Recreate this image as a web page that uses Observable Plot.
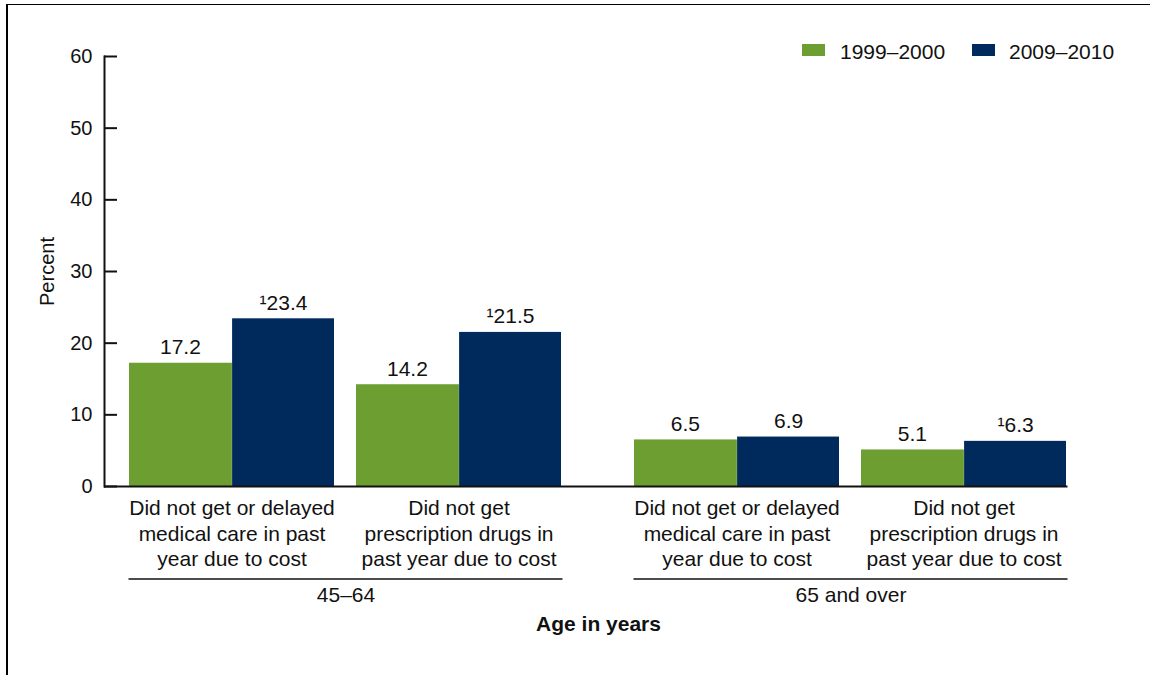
<!DOCTYPE html>
<html>
<head>
<meta charset="utf-8">
<script src="https://cdn.jsdelivr.net/npm/d3@7"></script>
<script src="https://cdn.jsdelivr.net/npm/@observablehq/plot@0.6"></script>
<style>
  html, body { margin: 0; padding: 0; background: #fff; }
  body { width: 1150px; height: 675px; position: relative; overflow: hidden;
         font-family: "Liberation Sans", Arial, Helvetica, sans-serif; }
  #border { position: absolute; left: 6px; top: 4px; width: 1150px; height: 700px;
            border-top: 1.5px solid #000; border-left: 2px solid #000; }
  #chart { position: absolute; left: 0; top: 0; }
  .lg { position: absolute; font-size: 21px; color: #111; line-height: 1; }
  .sw { position: absolute; width: 23px; height: 12px; }
</style>
</head>
<body>
<div id="border"></div>
<div id="chart"></div>
<div class="sw" id="sw1" style="left:802px; top:44px;"></div>
<div class="lg" id="lg1" style="left:840px; top:41px;"></div>
<div class="sw" id="sw2" style="left:972px; top:44px;"></div>
<div class="lg" id="lg2" style="left:1009px; top:41px;"></div>
<script>
// ---- data ----
const groups = ["45–64", "65 and over"];
const categoryKeys = ["care", "drugs"];
const categoryLabels = [
  "Did not get or delayed\nmedical care in past\nyear due to cost",
  "Did not get\nprescription drugs in\npast year due to cost"
];
const series = ["1999–2000", "2009–2010"];
const seriesColors = ["#6c9e31", "#002a5c"];
// order: [45–64 care, 45–64 drugs, 65+ care, 65+ drugs]
const values1999 = [17.2, 14.2, 6.5, 5.1];
const values2009 = [23.4, 21.5, 6.9, 6.3];
const note1999 = [false, false, false, false];
const note2009 = [true, true, false, true];
const yTicks = [0, 10, 20, 30, 40, 50, 60];

// ---- tables ----
function rowsFor(values, notes, s) {
  return values.map((v, i) => ({
    group: groups[Math.floor(i / 2)],
    cat: categoryKeys[i % 2],
    series: s,
    value: v,
    label: (notes[i] ? "¹" : "") + v.toFixed(1)
  }));
}
const rowsA = rowsFor(values1999, note1999, series[0]);
const rowsB = rowsFor(values2009, note2009, series[1]);
const catRows = groups.flatMap(g => categoryKeys.map((k, j) => ({group: g, cat: k, label: categoryLabels[j]})));

const halfBar = 103.1;

const chart = Plot.plot({
  width: 1150,
  height: 675,
  marginLeft: 104,
  marginRight: 58,
  marginTop: 56,
  marginBottom: 189,
  style: {fontFamily: "'Liberation Sans', Arial, Helvetica, sans-serif", fontSize: "21px", color: "#111", background: "transparent", overflow: "visible"},
  fx: {domain: groups, paddingInner: 0.0436, paddingOuter: 0, axis: null},
  x: {domain: categoryKeys, paddingInner: 0.0965, paddingOuter: 0.1075, axis: null},
  y: {domain: [0, 60], axis: null},
  marks: [
    Plot.barY(rowsA, {fx: "group", x: "cat", y: "value", fill: seriesColors[0], insetRight: halfBar - 1}),
    Plot.barY(rowsB, {fx: "group", x: "cat", y: "value", fill: seriesColors[1], insetLeft: halfBar}),
    Plot.text(rowsA, {fx: "group", x: "cat", y: "value", text: "label", dx: -halfBar / 2, dy: -9, lineAnchor: "bottom", fontSize: 21}),
    Plot.text(rowsB, {fx: "group", x: "cat", y: "value", text: "label", dx: halfBar / 2, dy: -9, lineAnchor: "bottom", fontSize: 21}),
    Plot.axisY({ticks: yTicks, tickSize: -13, tickPadding: 25, strokeWidth: 2, fontSize: 20, label: null, tickFormat: d => String(d)}),
    Plot.frame({anchor: "left", facetAnchor: "left", strokeWidth: 2}),
    Plot.ruleY([groups[0]], {fx: d => d, y: () => 0, insetRight: -22, strokeWidth: 2.2}),
    Plot.ruleY([groups[1]], {fx: d => d, y: () => 0, insetRight: 24.5, strokeWidth: 2.2}),
    Plot.text(catRows, {fx: "group", x: "cat", text: "label", frameAnchor: "bottom", lineAnchor: "top", dy: 11, lineHeight: 1.2, fontSize: 21}),
    Plot.ruleY([0], {dy: 92.5, insetLeft: 24.5, insetRight: 24.5, strokeWidth: 1.5}),
    Plot.text(groups, {fx: d => d, text: d => d, frameAnchor: "bottom", dy: 115, fontSize: 21}),
    Plot.text(["Age in years"], {facet: "super", text: d => d, frameAnchor: "bottom", dy: 144, fontWeight: "bold", fontSize: 21}),
    Plot.text(["Percent"], {facet: "super", text: d => d, frameAnchor: "left", textAnchor: "middle", rotate: -90, dx: -57, fontSize: 20})
  ]
});
document.getElementById("chart").appendChild(chart);
document.getElementById("sw1").style.background = seriesColors[0];
document.getElementById("sw2").style.background = seriesColors[1];
document.getElementById("lg1").textContent = series[0];
document.getElementById("lg2").textContent = series[1];
</script>
</body>
</html>
